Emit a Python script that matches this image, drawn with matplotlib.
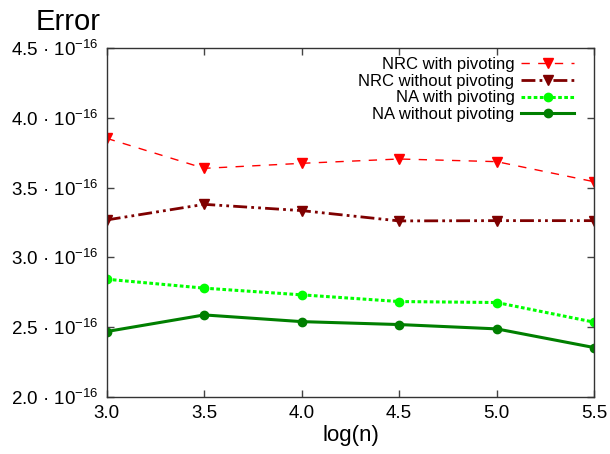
import numpy as np
import matplotlib
matplotlib.use("Agg")
import matplotlib.pyplot as plt
from matplotlib.ticker import FuncFormatter

plt.rcParams['font.family'] = ['Liberation Sans', 'DejaVu Sans']
plt.rcParams['mathtext.fontset'] = 'custom'
plt.rcParams['mathtext.rm'] = 'Liberation Sans'
plt.rcParams['mathtext.it'] = 'Liberation Sans'

# data
logn = [3.0, 3.5, 4.0, 4.5, 5.0, 5.5]
nrc_piv = [3.853, 3.638, 3.674, 3.705, 3.686, 3.542]
nrc_nopiv = [3.268, 3.380, 3.335, 3.261, 3.263, 3.263]
na_piv = [2.843, 2.779, 2.731, 2.683, 2.676, 2.535]
na_nopiv = [2.468, 2.587, 2.539, 2.518, 2.487, 2.353]
labels = ["NRC with pivoting", "NRC without pivoting", "NA with pivoting", "NA without pivoting"]

scale = 1e-16
fig = plt.figure(figsize=(6.10, 4.54), dpi=100)
ax = fig.add_axes([0.175, 0.126, 0.799, 0.768])

ax.plot(logn, np.array(nrc_piv) * scale, color='#ff0000', lw=1.0, ls=(0, (6, 6)),
        marker='v', ms=7, label=labels[0])
ax.plot(logn, np.array(nrc_nopiv) * scale, color='#7f0000', lw=2.0, ls=(0, (5, 1.5, 1, 1.5, 1, 1.5)),
        marker='v', ms=7, label=labels[1])
ax.plot(logn, np.array(na_piv) * scale, color='#00ff00', lw=2.2, ls=(0, (1.2, 0.8)),
        marker='o', ms=6, label=labels[2])
ax.plot(logn, np.array(na_nopiv) * scale, color='#007f00', lw=2.2, ls='-',
        marker='o', ms=6, label=labels[3])

ax.set_xlim(3.0, 5.5)
ax.set_ylim(2.0e-16, 4.5e-16)
ax.set_xticks([3.0, 3.5, 4.0, 4.5, 5.0, 5.5])
ax.set_yticks(np.arange(2.0, 4.51, 0.5) * scale)
ax.xaxis.set_major_formatter(FuncFormatter(lambda v, p: f"{v:.1f}"))
ax.yaxis.set_major_formatter(FuncFormatter(lambda v, p: f"{v / scale:.1f} · 10$^{{-16}}$"))
ax.tick_params(direction='in', top=True, right=True, length=5, width=1, color='#444444',
               labelsize=13.5, pad=6)
for s in ax.spines.values():
    s.set_color('#333333')
    s.set_linewidth(1)

ax.set_xlabel("log(n)", fontsize=16, labelpad=2)
fig.text(0.059, 0.933, "Error", fontsize=21)

ax.legend(loc='upper right', frameon=False, markerfirst=False, fontsize=12,
          handlelength=3.2, labelspacing=0.1, handletextpad=0.4,
          bbox_to_anchor=(0.98, 1.003), borderaxespad=0.2)

fig.savefig("out.png", dpi=100)
